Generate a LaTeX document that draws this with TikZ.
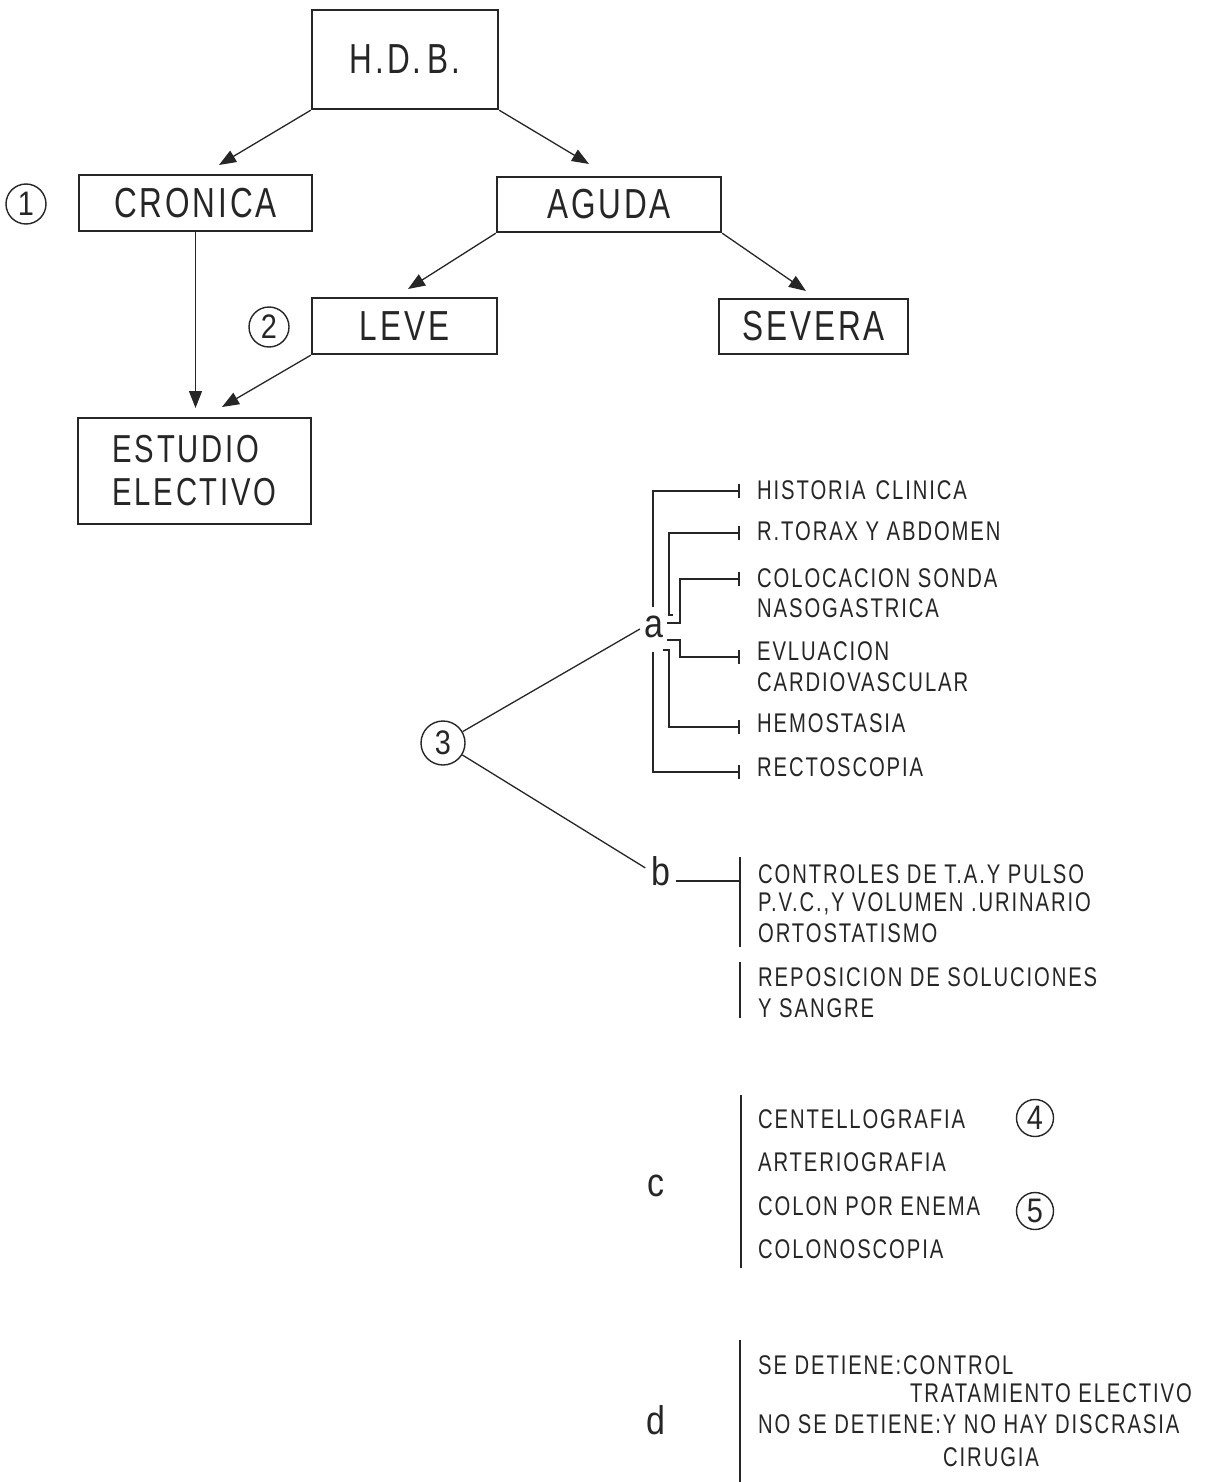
\documentclass[tikz,border=0pt]{standalone}
\usepackage{fontspec}
\setmainfont{Liberation Sans}[FakeStretch=0.75,LetterSpace=7]
\newfontfamily\plainlbl{Liberation Sans}[FakeStretch=0.85]
\usetikzlibrary{arrows.meta}
\definecolor{ink}{gray}{0.15}
\begin{document}
\begin{tikzpicture}[x=1pt,y=-1pt,
  every node/.style={text=ink},
  box/.style={draw=ink, line width=2.4pt, inner sep=0pt, font=\fontsize{42}{44}\selectfont},
  conn/.style={draw=ink, line width=1.3pt, -{Triangle[length=17pt,width=13pt]}},
  ray/.style={draw=ink, line width=1.3pt},
  brk/.style={draw=ink, line width=2pt},
  item/.style={anchor=west, inner sep=0pt, font=\fontsize{27}{29}\selectfont},
  ltr/.style={inner sep=1pt, font=\plainlbl\fontsize{40}{40}\selectfont},
  num/.style={circle, draw=ink, line width=1.4pt, inner sep=0pt, font=\plainlbl\fontsize{34}{34}\selectfont},
]
\useasboundingbox[fill=white] (0,0) rectangle (1209,1482);

% ---- top flow chart ----
\node[box, minimum width=186pt, minimum height=99pt] (hdb) at (405,59.5) {H.D.\hspace{6pt}B.};
\node[box, minimum width=233pt, minimum height=56pt] (cro) at (195.5,203) {CRONICA};
\node[box, minimum width=224pt, minimum height=55pt] (agu) at (609,204.5) {AGUDA};
\node[box, minimum width=185pt, minimum height=56pt] (lev) at (404.5,326) {LEVE};
\node[box, minimum width=189pt, minimum height=55pt] (sev) at (813.5,326.5) {SEVERA};
\node[box, minimum width=233pt, minimum height=106pt, align=left,
      font=\fontsize{39}{43}\selectfont] (est) at (194.5,471) {ESTUDIO\\ELECTIVO};

\node[num, minimum size=40pt] (n1) at (26,204) {1};
\node[num, minimum size=40pt] (n2) at (269,327) {2};

\coordinate (t1) at (219,165);
\coordinate (t2) at (589,164);
\coordinate (t3) at (408,289);
\coordinate (t4) at (806,291);
\coordinate (t5) at (195.5,408);
\coordinate (t6) at (222,407);
\draw[conn] (hdb.south west) -- (t1);
\draw[conn] (hdb.south east) -- (t2);
\draw[conn] (agu.south west) -- (t3);
\draw[conn] (agu.south east) -- (t4);
\draw[conn] (cro.south) -- (t5);
\draw[conn] (lev.south west) -- (t6);

% ---- circle 3 ----
\node[num, minimum size=44pt] (n3) at (443,743) {3};

% ---- section a ----
\node[ltr] (a) at (654,627) {a};
\node[item] (hist) at (757,490) {HISTORIA\hspace{10pt}CLINICA};
\node[item] (rtor) at (757,531) {R.TORAX Y ABDOMEN};
\node[item] (col1) at (757,578) {COLOCACION SONDA};
\node[item] (col2) at (757,608) {NASOGASTRICA};
\node[item] (ev1) at (757,651) {EVLUACION};
\node[item] (ev2) at (757,682) {CARDIOVASCULAR};
\node[item] (hemo) at (757,723) {HEMOSTASIA};
\node[item] (rect) at (757,767) {RECTOSCOPIA};

\coordinate (eh) at ([xshift=-18pt,yshift=-1pt]hist.west);
\coordinate (er) at ([xshift=-18pt,yshift=-2pt]rtor.west);
\coordinate (ec) at ([xshift=-18pt,yshift=-1pt]col1.west);
\coordinate (ee) at ([xshift=-18pt,yshift=-6pt]ev1.west);
\coordinate (em) at ([xshift=-18pt,yshift=-4pt]hemo.west);
\coordinate (ex) at ([xshift=-18pt,yshift=-5pt]rect.west);

\draw[brk] (653,607) |- (eh);
\draw[brk] (673,615) -- (669,615) |- (er);
\draw[brk] (667,623) -- (680,623) |- (ec);
\draw[brk] (667,640) -- (680,640) |- (ee);
\draw[brk] (663,650) -- (669,650) |- (em);
\draw[brk] (653,652) |- (ex);
\foreach \p in {eh,er,ec,ee,em,ex}
  \draw[brk] ([yshift=7pt]\p) -- ([yshift=-7pt]\p);

\draw[ray, shorten >=4pt] (n3) -- (a.west);

% ---- section b ----
\node[ltr] (b) at (661,871) {b};
\draw[ray, shorten >=6pt] (n3) -- (b.west);
\coordinate (b1) at (740,857);
\coordinate (b2) at (740,947);
\coordinate (b3) at (740,962);
\coordinate (b4) at (740,1018);
\coordinate (bj) at (740,881);
\draw[brk] (b1) -- (b2);
\draw[brk] (b3) -- (b4);
\draw[brk] ([xshift=4pt]b.east |- bj) -- (bj);
\node[item] (bi1) at (758,874) {CONTROLES DE T.A.Y PULSO};
\node[item] (bi2) at (758,904) {P.V.C.,Y VOLUMEN .URINARIO};
\node[item] (bi3) at (758,933) {ORTOSTATISMO};
\node[item] (bi4) at (758,977) {REPOSICION DE SOLUCIONES};
\node[item] (bi5) at (758,1008) {Y SANGRE};

% ---- section c ----
\node[ltr] (c) at (656,1186) {c};
\coordinate (c1) at (741,1095);
\coordinate (c2) at (741,1268);
\draw[brk] (c1) -- (c2);
\node[item] (ci1) at (758,1119) {CENTELLOGRAFIA};
\node[item] (ci2) at (758,1162) {ARTERIOGRAFIA};
\node[item] (ci3) at (758,1206) {COLON POR ENEMA};
\node[item] (ci4) at (758,1249) {COLONOSCOPIA};
\node[num, minimum size=37pt] (n4) at (1035,1118) {4};
\node[num, minimum size=37pt] (n5) at (1035,1211) {5};

% ---- section d ----
\node[ltr] (d) at (656,1420) {d};
\coordinate (d1c) at (740,1340);
\coordinate (d2c) at (740,1490);
\draw[brk] (d1c) -- (d2c);
\node[item] (d1) at (758,1365) {SE DETIENE:CONTROL};
\node[item] (d2) at (910,1393) {TRATAMIENTO ELECTIVO};
\node[item] (d3) at (758,1424) {NO SE DETIENE:Y NO HAY DISCRASIA};
\node[item] (d4) at (943,1457) {CIRUGIA};
\end{tikzpicture}
\end{document}
